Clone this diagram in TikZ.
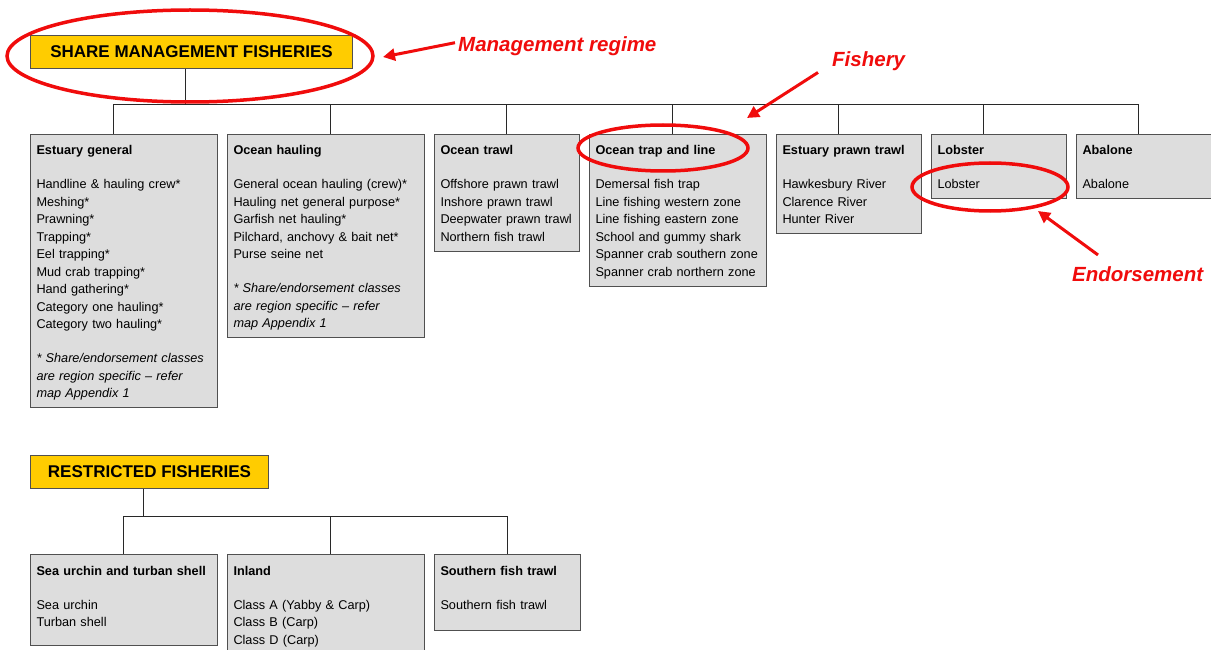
\documentclass[tikz,border=0pt]{standalone}
\usepackage{fontspec}
\setmainfont{Liberation Sans}
\usetikzlibrary{positioning,arrows.meta}

\definecolor{boxfill}{RGB}{221,221,221}
\definecolor{boxline}{RGB}{80,80,80}
\definecolor{linkgray}{RGB}{40,40,40}
\definecolor{regimefill}{RGB}{255,204,0}
\definecolor{notered}{RGB}{240,12,12}

\newcommand{\topgap}{\rule{0pt}{20.5pt}}
\newcommand{\botgap}[1][9.5pt]{\rule[-#1]{0pt}{#1}}

\begin{document}
\begin{tikzpicture}[x=1pt,y=-1pt,
  regime/.style={draw=boxline,fill=regimefill,line width=1pt,anchor=north west,minimum height=33pt,inner sep=0pt,font=\fontsize{17}{20}\selectfont\bfseries},
  fishery/.style={draw=boxline,fill=boxfill,line width=1pt,anchor=north west,inner xsep=6pt,inner ysep=0pt,align=left,text width=#1,font=\fontsize{12.7}{17.5}\selectfont},
  link/.style={draw=linkgray,line width=0.9pt},
  ring/.style={draw=notered,line width=3.5pt},
  annot/.style={draw=notered,line width=3pt,-{Triangle[length=12pt,width=12pt]}},
  notelabel/.style={text=notered,inner sep=0pt,anchor=base west,font=\fontsize{20.5}{24}\selectfont\bfseries\itshape}]
  \useasboundingbox (0,0) rectangle (1211,650);

  \node[regime,minimum width=322pt] (smf) at (30,35) {SHARE MANAGEMENT FISHERIES};

  \node[fishery=175pt] (estgen) at (30,134) {\topgap\textbf{Estuary general}\\[16.5pt]
    Handline \& hauling crew*\\ Meshing*\\ Prawning*\\ Trapping*\\ Eel trapping*\\
    Mud crab trapping*\\ Hand gathering*\\ Category one hauling*\\ Category two hauling*\\[16.5pt]
    {\itshape * Share/endorsement classes\\ are region specific -- refer\\ map Appendix 1}\botgap};
  \node[fishery=185pt,right=9pt of estgen.north east,anchor=north west] (ocnhaul) {\topgap\textbf{Ocean hauling}\\[16.5pt]
    General ocean hauling (crew)*\\ Hauling net general purpose*\\ Garfish net hauling*\\
    Pilchard, anchovy \& bait net*\\ Purse seine net\\[16.5pt]
    {\itshape * Share/endorsement classes\\ are region specific -- refer\\ map Appendix 1}\botgap};
  \node[fishery=133pt,right=9pt of ocnhaul.north east,anchor=north west] (ocntrawl) {\topgap\textbf{Ocean trawl}\\[16.5pt]
    Offshore prawn trawl\\ Inshore prawn trawl\\ Deepwater prawn trawl\\ Northern fish trawl\botgap};
  \node[fishery=165pt,right=9pt of ocntrawl.north east,anchor=north west] (trapline) {\topgap\textbf{Ocean trap and line}\\[16.5pt]
    Demersal fish trap\\ Line fishing western zone\\ Line fishing eastern zone\\
    School and gummy shark\\ Spanner crab southern zone\\ Spanner crab northern zone\botgap};
  \node[fishery=133pt,right=9pt of trapline.north east,anchor=north west] (estprawn) {\topgap\textbf{Estuary prawn trawl}\\[16.5pt]
    Hawkesbury River\\ Clarence River\\ Hunter River\botgap};
  \node[fishery=123pt,right=9pt of estprawn.north east,anchor=north west] (lobster) {\topgap\textbf{Lobster}\\[16.5pt]
    Lobster\botgap};
  \node[fishery=133pt,right=9pt of lobster.north east,anchor=north west] (abalone) {\topgap\textbf{Abalone}\\[16.5pt]
    Abalone\botgap};

  \coordinate (topbus) at ([yshift=-35pt]smf.south);
  \draw[link] ([xshift=-6pt]smf.south) -- ([xshift=-6pt]smf.south |- topbus);
  \draw[link] ([xshift=83pt]estgen.north west |- topbus) -- ([xshift=62pt]abalone.north west |- topbus);
  \foreach \n/\d in {estgen/83,ocnhaul/103,ocntrawl/72,trapline/83,estprawn/62,lobster/52,abalone/62}
    \draw[link] ([xshift=\d pt]\n.north west) -- ([xshift=\d pt]\n.north west |- topbus);

  \node[regime,minimum width=238pt] (rf) at (30,455) {RESTRICTED FISHERIES};

  \node[fishery=175pt] (urchin) at (30,554) {\topgap\textbf{Sea urchin and turban shell}\\[16.5pt]
    Sea urchin\\ Turban shell\botgap[18.5pt]};
  \node[fishery=185pt,right=9pt of urchin.north east,anchor=north west] (inland) {\topgap\textbf{Inland}\\[16.5pt]
    Class A (Yabby \& Carp)\\ Class B (Carp)\\ Class D (Carp)\botgap};
  \node[fishery=134pt,right=9pt of inland.north east,anchor=north west] (southtrawl) {\topgap\textbf{Southern fish trawl}\\[16.5pt]
    Southern fish trawl\botgap[21.5pt]};

  \coordinate (lowbus) at ([yshift=-27pt]rf.south);
  \draw[link] ([xshift=-6pt]rf.south) -- ([xshift=-6pt]rf.south |- lowbus);
  \draw[link] ([xshift=93pt]urchin.north west |- lowbus) -- ([xshift=73pt]southtrawl.north west |- lowbus);
  \foreach \n/\d in {urchin/93,inland/103,southtrawl/73}
    \draw[link] ([xshift=\d pt]\n.north west) -- ([xshift=\d pt]\n.north west |- lowbus);

  \draw[ring] (190,56) ellipse [x radius=183,y radius=46];
  \draw[ring] (663,148) ellipse [x radius=85,y radius=23];
  \draw[ring] (990,187) ellipse [x radius=78,y radius=24];

  \coordinate (regtip) at (383,57);
  \coordinate (fishtip) at (747,118);
  \coordinate (endotip) at (1038,211);
  \node[notelabel] (regname) at (458,52) {Management regime};
  \node[notelabel] (fishname) at (832,67) {Fishery};
  \node[notelabel] (endoname) at (1072,281) {Endorsement};
  \draw[annot] ([shift={(-3pt,4pt)}]regname.west) -- (regtip);
  \draw[annot] ([shift={(-14pt,-1pt)}]fishname.south west) -- (fishtip);
  \draw[annot] ([shift={(26pt,11pt)}]endoname.north west) -- (endotip);
\end{tikzpicture}
\end{document}
